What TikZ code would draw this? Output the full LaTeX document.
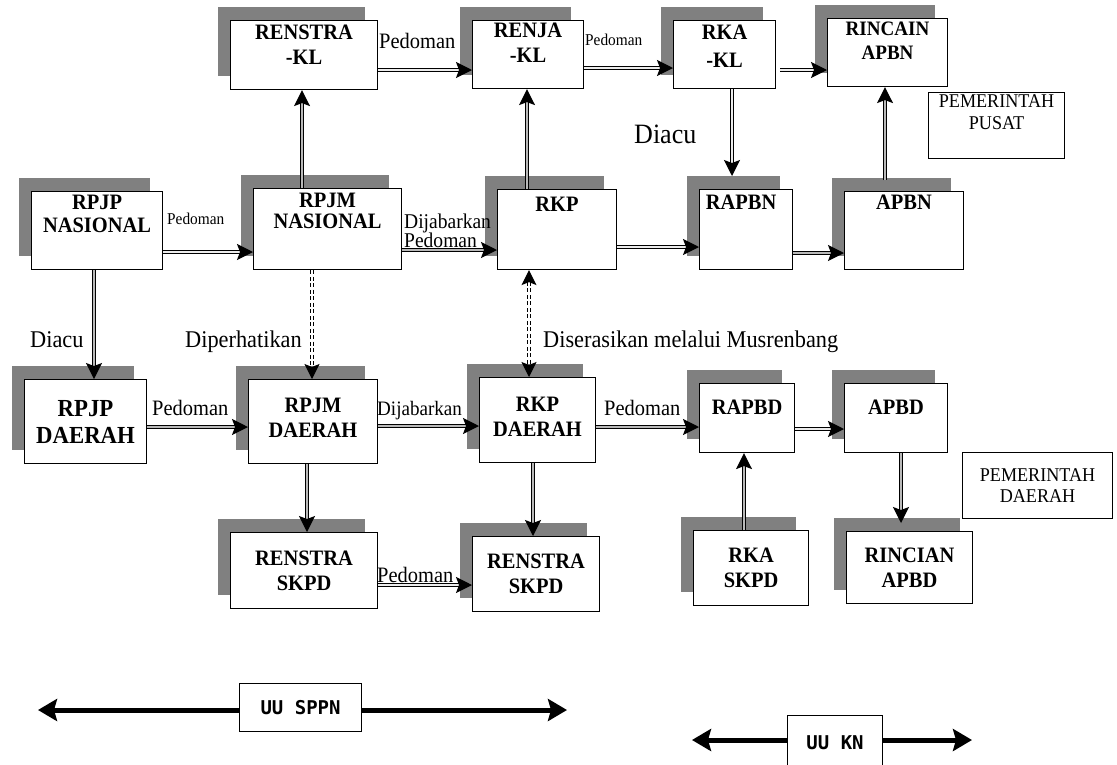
\documentclass[tikz,border=0pt]{standalone}
\usepackage{fontspec}
\setmainfont{Liberation Serif}[FakeStretch=0.93]
\newfontfamily\uufont{DejaVu Sans Mono}
\usetikzlibrary{arrows.meta,shadows}
\definecolor{shadowgray}{RGB}{128,128,128}
\tikzset{
  bx/.style={draw=black, line width=1.1pt, fill=white, inner sep=0pt, anchor=north west, align=center,
    font=\fontsize{22}{25}\selectfont\bfseries,
    drop shadow={shadow xshift=-13pt, shadow yshift=14pt, fill=shadowgray, opacity=1}},
  plainbox/.style={draw=black, line width=1.1pt, fill=white, inner sep=0pt, anchor=north west, align=center,
    font=\fontsize{19.5}{21}\selectfont},
  tl/.style={anchor=north, align=center, inner sep=0pt, font=\fontsize{22}{25}\selectfont\bfseries},
  tlp/.style={anchor=north, align=center, inner sep=0pt, font=\fontsize{19.5}{22}\selectfont},
  lab/.style={anchor=base west, inner sep=0pt, font=\fontsize{22}{24}\selectfont},
  tip/.style={-{Stealth[length=16pt,width=16pt,inset=3pt]}},
  con/.style={line width=1.3pt, double=gray!55, double distance=2.2pt, tip},
  conw/.style={line width=1.3pt, double=gray!15, double distance=2.2pt, tip},
  dotcon/.style={line width=1.1pt, double=white, double distance=2pt, dash pattern=on 4pt off 2.5pt, -{Stealth[length=15pt,width=15pt,inset=3pt]}},
  dotboth/.style={line width=1.1pt, double=white, double distance=2pt, dash pattern=on 4pt off 2.5pt, {Stealth[length=15pt,width=15pt,inset=3pt]}-{Stealth[length=15pt,width=15pt,inset=3pt]}},
  big/.style={line width=5pt, -{Stealth[length=19pt,width=22pt,inset=3pt]}},
  uubox/.style={draw=black, line width=1.1pt, fill=white, inner sep=0pt, anchor=north west,
    font=\uufont\bfseries\fontsize{19}{21}\selectfont}
}
\begin{document}
\begin{tikzpicture}[x=1pt,y=-1pt]
\clip (0,0) rectangle (1117,764);
\fill[white] (0,0) rectangle (1117,764);

% top row
\node[bx, minimum width=147pt, minimum height=69pt, label={[tl,yshift=-5pt]north:RENSTRA\\-KL}] (renstrakl) at (230,20) {};
\node[bx, minimum width=111pt, minimum height=68pt, label={[tl,yshift=-3pt]north:RENJA\\-KL}] (renjakl) at (472,20) {};
\node[bx, minimum width=102pt, minimum height=68pt, label={[tl,yshift=-5pt]north:RKA\\[3pt]-KL}] (rkakl) at (673,20) {};
\node[bx, minimum width=120pt, minimum height=68pt, label={[tl,yshift=-4pt,font=\fontsize{20.5}{24}\selectfont\bfseries]north:RINCAIN\\APBN}] (rincainapbn) at (827,18) {};
\node[plainbox, minimum width=136pt, minimum height=66pt, label={[tlp,yshift=-2pt]north:PEMERINTAH\\PUSAT}] (pusat) at (928,92) {};

% middle row
\node[bx, minimum width=131pt, minimum height=78pt, label={[tl,yshift=-4pt]north:RPJP\\[-2pt]NASIONAL}] (rpjpn) at (31,191) {};
\node[bx, minimum width=148pt, minimum height=81pt, label={[tl,yshift=-5pt]north:RPJM\\[-4pt]NASIONAL}] (rpjmn) at (253,188) {};
\node[bx, minimum width=119pt, minimum height=80pt, label={[tl,yshift=-8pt]north:RKP}] (rkp) at (497,189) {};
\node[bx, minimum width=93pt, minimum height=80pt, label={[tl,yshift=-6pt,xshift=-5pt]north:RAPBN}] (rapbn) at (699,189) {};
\node[bx, minimum width=119pt, minimum height=78pt, label={[tl,yshift=-4pt]north:APBN}] (apbn) at (844,191) {};

% lower row
\node[bx, minimum width=122pt, minimum height=84pt, font=\fontsize{24.5}{27}\selectfont\bfseries] (rpjpd) at (24,379) {RPJP\\DAERAH};
\node[bx, minimum width=129pt, minimum height=84pt, label={[tl,yshift=-19pt]north:RPJM\\DAERAH}] (rpjmd) at (248,379) {};
\node[bx, minimum width=116pt, minimum height=85pt, label={[tl,yshift=-20pt]north:RKP\\DAERAH}] (rkpd) at (479,377) {};
\node[bx, minimum width=95pt, minimum height=69pt, label={[tl,yshift=-17pt]north:RAPBD}] (rapbd) at (699,383) {};
\node[bx, minimum width=103pt, minimum height=69pt, label={[tl,yshift=-17pt]north:APBD}] (apbd) at (844,383) {};
\node[plainbox, minimum width=150pt, minimum height=66pt, font=\fontsize{19.5}{20.5}\selectfont] (daerah) at (962,452) {PEMERINTAH\\DAERAH};

% bottom row
\node[bx, minimum width=147pt, minimum height=76pt] (renstral) at (230,532) {RENSTRA\\SKPD};
\node[bx, minimum width=127pt, minimum height=75pt] (renstrar) at (472,536) {RENSTRA\\SKPD};
\node[bx, minimum width=115pt, minimum height=75pt] (rkaskpd) at (693,530) {RKA\\SKPD};
\node[bx, minimum width=126pt, minimum height=72pt] (rincianapbd) at (846,531) {RINCIAN\\APBD};

% connectors
\draw[conw] (rpjpn.east |- 0,252) -- (rpjmn.west |- 0,252);
\draw[con] (rpjmn.east |- 0,250) -- (rkp.west |- 0,250);
\draw[con] (302,0 |- rpjmn.north) -- (302,0 |- renstrakl.south);
\draw[conw] (renstrakl.east |- 0,70) -- (renjakl.west |- 0,70);
\draw[con] (527,0 |- rkp.north) -- (527,0 |- renjakl.south);
\draw[conw] (renjakl.east |- 0,68) -- (rkakl.west |- 0,68);
\draw[conw, shorten <=4pt] (rkakl.east |- 0,70) -- (rincainapbn.west |- 0,70);
\draw[conw, shorten >=13pt] (732,0 |- rkakl.south) -- (732,0 |- rapbn.north);
\draw[conw] (rkp.east |- 0,247) -- (rapbn.west |- 0,247);
\draw[con] (rapbn.east |- 0,253) -- (apbn.west |- 0,253);
\draw[con, shorten <=11pt] (885,0 |- apbn.north) -- (885,0 |- rincainapbn.south);
\draw[con] (94,0 |- rpjpn.south) -- (94,0 |- rpjpd.north);
\draw[dotcon] (312,0 |- rpjmn.south) -- (312,0 |- rpjmd.north);
\draw[dotboth] (529,0 |- rkp.south) -- (529,0 |- rkpd.north);
\draw[con] (rpjpd.east |- 0,427) -- (rpjmd.west |- 0,427);
\draw[con] (rpjmd.east |- 0,426) -- (rkpd.west |- 0,426);
\draw[con] (rkpd.east |- 0,427) -- (rapbd.west |- 0,427);
\draw[conw] (rapbd.east |- 0,429) -- (apbd.west |- 0,429);
\draw[con] (307,0 |- rpjmd.south) -- (307,0 |- renstral.north);
\draw[con] (533,0 |- rkpd.south) -- (533,0 |- renstrar.north);
\draw[conw] (renstral.east |- 0,585) -- (renstrar.west |- 0,585);
\draw[con] (744,0 |- rkaskpd.north) -- (744,0 |- rapbd.south);
\draw[con, shorten >=8pt] (901,0 |- apbd.south) -- (901,0 |- rincianapbd.north);

% labels
\node[lab] (l1) at (379,48) {Pedoman};
\node[lab, font=\fontsize{16.5}{18}\selectfont] (l2) at (167,224) {Pedoman};
\node[lab, font=\fontsize{21}{23}\selectfont] (l3) at (404,228) {Dijabarkan};
\node[lab, font=\fontsize{21}{23}\selectfont] (l4) at (404,247) {Pedoman};
\node[lab, font=\fontsize{16.5}{18}\selectfont] (l5) at (585,45) {Pedoman};
\node[lab, font=\fontsize{28}{30}\selectfont] (l6) at (634,143) {Diacu};
\node[lab, font=\fontsize{24}{26}\selectfont] (l7) at (30,347) {Diacu};
\node[lab, font=\fontsize{24}{26}\selectfont] (l8) at (185,347) {Diperhatikan};
\node[lab, font=\fontsize{24}{26}\selectfont] (l9) at (543,347) {Diserasikan melalui Musrenbang};
\node[lab] (l10) at (152,415) {Pedoman};
\node[lab, font=\fontsize{20.5}{22}\selectfont] (l11) at (377,415) {Dijabarkan};
\node[lab] (l12) at (604,415) {Pedoman};
\node[lab] (l13) at (377,582) {Pedoman};

% laws
\coordinate (sppnL) at (38,710);
\coordinate (sppnR) at (567,710);
\node[uubox, minimum width=122pt, minimum height=48pt] (uusppn) at (239,683) {UU SPPN};
\draw[big] (uusppn.west |- sppnL) -- (sppnL);
\draw[big] (uusppn.east |- sppnR) -- (sppnR);
\coordinate (knL) at (692,740);
\coordinate (knR) at (972,740);
\node[uubox, minimum width=95pt, minimum height=54pt, anchor=north west] (uukn) at (787,715) {UU\hspace{0.6em}KN};
\draw[big] (uukn.west |- knL) -- (knL);
\draw[big] (uukn.east |- knR) -- (knR);
\end{tikzpicture}
\end{document}
